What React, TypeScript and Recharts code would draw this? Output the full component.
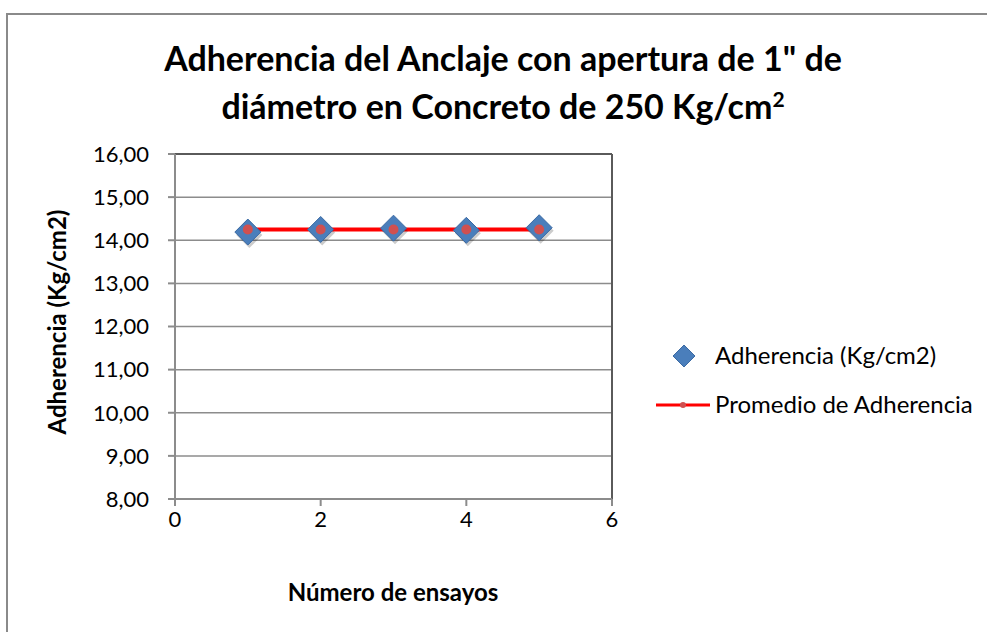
import {
  ComposedChart,
  CartesianGrid,
  Line,
  ReferenceLine,
  Scatter,
  XAxis,
  YAxis,
} from "recharts";

const ensayos = [1, 2, 3, 4, 5];
const adherencia = [14.19, 14.25, 14.28, 14.23, 14.29];
const promedio = [14.25, 14.25, 14.25, 14.25, 14.25];
const xTicks = [0, 2, 4, 6];
const yTicks = [8, 9, 10, 11, 12, 13, 14, 15, 16];

const scatterData = ensayos.map((x, i) => ({ x, y: adherencia[i] }));
const lineData = ensayos.map((x, i) => ({ x, y: promedio[i] }));

const FONT = "Lato, sans-serif";

function Diamond(props: any) {
  const { cx, cy } = props;
  const r = 13;
  const pts = (dx: number, dy: number) =>
    `${cx + dx},${cy - r + dy} ${cx + r + dx},${cy + dy} ${cx + dx},${cy + r + dy} ${cx - r + dx},${cy + dy}`;
  return (
    <g>
      <polygon points={pts(1.5, 3)} fill="rgba(0,0,0,0.2)" />
      <polygon points={pts(0, 0)} fill="#4a7ebb" stroke="#3b6aa3" strokeWidth={1} />
    </g>
  );
}

// legend drawn by hand, Excel style
function LegendBox() {
  return (
    <svg width={330} height={100} style={{ fontFamily: FONT, overflow: "visible" }}>
      <polygon points="28,5 39,16 28,27 17,16" fill="#4a7ebb" stroke="#3b6aa3" />
      <text x={59} y={24} fontSize={24} fill="#000">
        Adherencia (Kg/cm2)
      </text>
      <line x1={0} x2={54} y1={65} y2={65} stroke="#ff0000" strokeWidth={3} />
      <circle cx={27} cy={65} r={3} fill="#d05050" />
      <text x={59} y={73} fontSize={24} fill="#000">
        Promedio de Adherencia
      </text>
    </svg>
  );
}

export default function App() {
  return (
    <div
      style={{
        position: "absolute",
        left: 0,
        top: 0,
        width: 987,
        height: 632,
        overflow: "hidden",
        background: "#fff",
        fontFamily: FONT,
      }}
    >
      <div
        style={{
          position: "absolute",
          left: 6,
          top: 13,
          width: 1000,
          height: 700,
          border: "2px solid #8a8a8a",
        }}
      />
      <div
        style={{
          position: "absolute",
          left: 0,
          top: 34,
          width: 1006,
          textAlign: "center",
          fontWeight: 700,
          fontSize: 34,
          lineHeight: "48px",
          color: "#000",
        }}
      >
        Adherencia del Anclaje con apertura de 1" de
        <br />
        diámetro en Concreto de 250 Kg/cm<sup style={{ fontSize: 21, lineHeight: 0 }}>2</sup>
      </div>
      <div
        style={{
          position: "absolute",
          left: 243,
          top: 577,
          width: 300,
          textAlign: "center",
          fontWeight: 700,
          fontSize: 24,
        }}
      >
        Número de ensayos
      </div>
      <div
        style={{
          position: "absolute",
          left: 56,
          top: 322,
          width: 260,
          textAlign: "center",
          fontWeight: 700,
          fontSize: 24,
          transform: "translate(-50%, -50%) rotate(-90deg)",
        }}
      >
        Adherencia (Kg/cm2)
      </div>
      <div style={{ position: "absolute", left: 0, top: 0 }}>
        <ComposedChart
          width={987}
          height={632}
          margin={{ top: 154, right: 375, bottom: 93, left: 80 }}
        >
          <CartesianGrid vertical={false} stroke="#8c8c8c" strokeWidth={1.5} />
          <XAxis
            type="number"
            dataKey="x"
            domain={[0, 6]}
            ticks={xTicks}
            height={40}
            axisLine={{ stroke: "#8c8c8c", strokeWidth: 2 }}
            tickLine={{ stroke: "#8c8c8c", strokeWidth: 2 }}
            tickSize={7}
            tick={{ fill: "#000", fontSize: 22, fontFamily: FONT }}
            tickMargin={5}
          />
          <YAxis
            type="number"
            dataKey="y"
            domain={[8, 16]}
            ticks={yTicks}
            width={95}
            axisLine={{ stroke: "#8c8c8c", strokeWidth: 2 }}
            tickLine={{ stroke: "#8c8c8c", strokeWidth: 2 }}
            tickSize={7}
            tickFormatter={(v: number) => v.toFixed(2).replace(".", ",")}
            tick={{ fill: "#000", fontSize: 22, fontFamily: FONT }}
            tickMargin={19}
          />
          <ReferenceLine x={6} stroke="#5a5a5a" strokeWidth={2} />
          <ReferenceLine y={16} stroke="#5a5a5a" strokeWidth={2} />
          <Scatter
            name="Adherencia (Kg/cm2)"
            data={scatterData}
            dataKey="y"
            shape={<Diamond />}
            isAnimationActive={false}
          />
          <Line
            name="Promedio de Adherencia"
            data={lineData}
            dataKey="y"
            stroke="#ff0000"
            strokeWidth={4}
            dot={{ r: 3, fill: "#d05050", stroke: "#d05050" }}
            activeDot={false}
            isAnimationActive={false}
          />
        </ComposedChart>
      </div>
      <div style={{ position: "absolute", left: 656, top: 340 }}>
        <LegendBox />
      </div>
    </div>
  );
}
